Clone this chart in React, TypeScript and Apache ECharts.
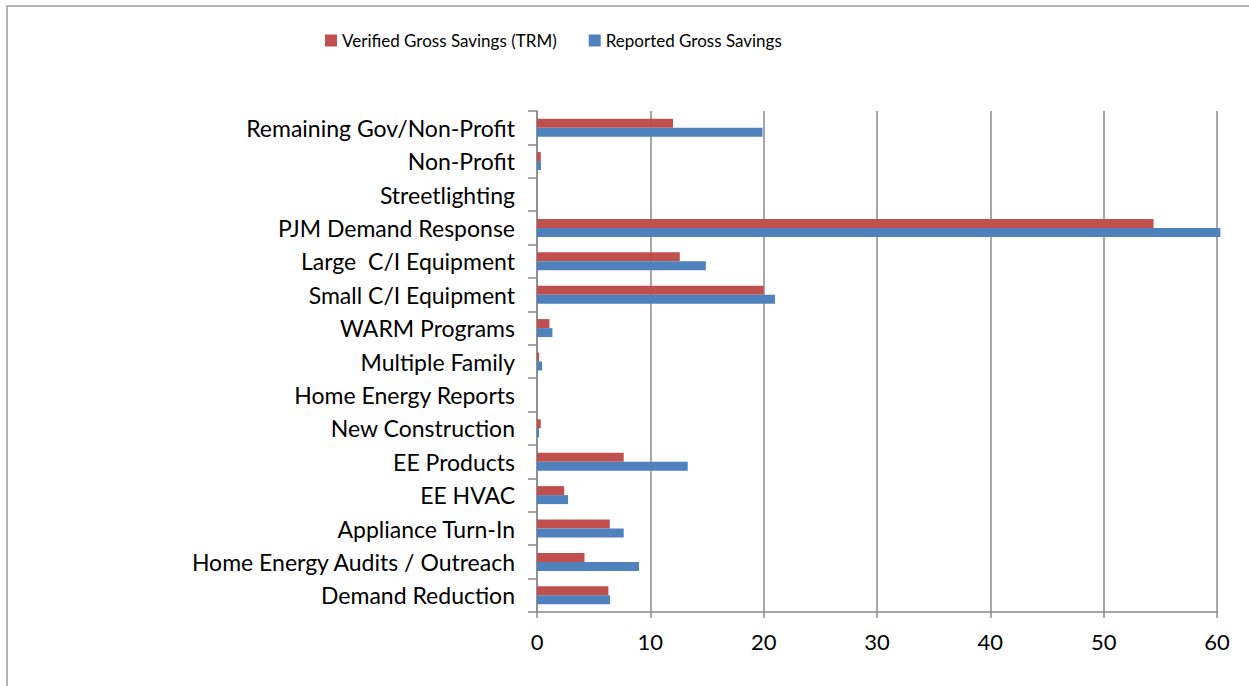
import React, { useEffect, useRef } from "react";
import * as echarts from "echarts";

const categories = [
  "Remaining Gov/Non-Profit",
  "Non-Profit",
  "Streetlighting",
  "PJM Demand Response",
  "Large  C/I Equipment",
  "Small C/I Equipment",
  "WARM Programs",
  "Multiple Family",
  "Home Energy Reports",
  "New Construction",
  "EE Products",
  "EE HVAC",
  "Appliance Turn-In",
  "Home Energy Audits / Outreach",
  "Demand Reduction",
];

const verified = [12.0, 0.33, 0, 54.4, 12.6, 20.0, 1.1, 0.18, 0, 0.33, 7.65, 2.4, 6.42, 4.19, 6.3];
const reported = [19.9, 0.35, 0, 60.3, 14.9, 21.0, 1.36, 0.45, 0, 0.18, 13.3, 2.74, 7.65, 9.0, 6.45];

const xTicks = { min: 0, max: 60, interval: 10 };

export default function App() {
  const ref = useRef<HTMLDivElement>(null);
  useEffect(() => {
    if (!ref.current) return;
    const chart = echarts.init(ref.current, null, { renderer: "svg" });
    const font = "Lato, 'Noto Sans', sans-serif";
    const grey = "#8a8a8a";
    chart.setOption({
      animation: false,
      backgroundColor: "#ffffff",
      textStyle: { fontFamily: font },
      graphic: [
        {
          type: "rect",
          shape: { x: 7, y: 6, width: 1260, height: 700 },
          style: { fill: "none", stroke: "#9a9a9a", lineWidth: 1.5 },
          silent: true,
        },
      ],
      legend: {
        top: 27,
        left: 320,
        itemWidth: 12,
        itemHeight: 12,
        itemGap: 32,
        icon: "rect",
        textStyle: { fontFamily: font, fontSize: 17, color: "#000" },
        data: ["Verified Gross Savings (TRM)", "Reported Gross Savings"],
      },
      grid: { left: 537, right: 32, top: 111, bottom: 74 },
      xAxis: {
        type: "value",
        min: xTicks.min,
        max: xTicks.max,
        interval: xTicks.interval,
        axisLine: { show: true, lineStyle: { color: grey, width: 1.5 } },
        axisTick: { show: true, length: 6, lineStyle: { color: grey, width: 1.5 } },
        splitLine: { show: true, lineStyle: { color: grey, width: 1.5 } },
        axisLabel: { fontFamily: font, fontSize: 22, color: "#000", margin: 18 },
      },
      yAxis: {
        type: "category",
        inverse: true,
        data: categories,
        axisLine: { show: true, lineStyle: { color: grey, width: 1.5 } },
        axisTick: { show: true, length: 9, lineStyle: { color: grey, width: 1.5 } },
        axisLabel: { fontFamily: font, fontSize: 23, color: "#000", margin: 22 },
      },
      series: [
        {
          name: "Verified Gross Savings (TRM)",
          type: "bar",
          data: verified,
          barWidth: 9,
          barGap: "0%",
          clip: false,
          itemStyle: { color: "#C0504D" },
        },
        {
          name: "Reported Gross Savings",
          type: "bar",
          data: reported,
          barWidth: 9,
          barGap: "0%",
          clip: false,
          itemStyle: { color: "#4F81BD" },
        },
      ],
    });
    return () => chart.dispose();
  }, []);
  return (
    <div
      ref={ref}
      style={{ position: "absolute", left: 0, top: 0, width: 1249, height: 686 }}
    />
  );
}
